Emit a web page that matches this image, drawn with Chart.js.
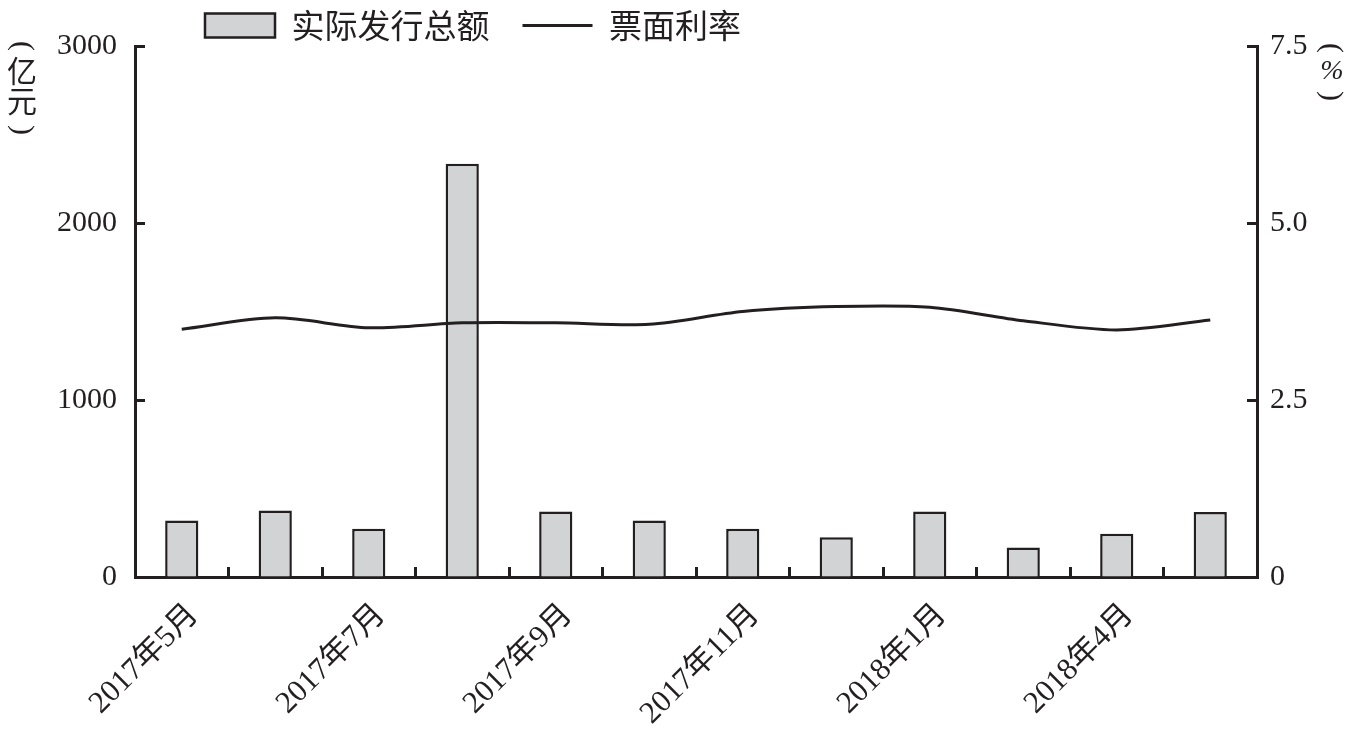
<!DOCTYPE html>
<html>
<head>
<meta charset="utf-8">
<script src="https://cdn.jsdelivr.net/npm/chart.js@4.4.1/dist/chart.umd.min.js"></script>
<style>
  html, body { margin: 0; padding: 0; background: #fff; }
  #wrap { width: 1359px; height: 738px; }
</style>
</head>
<body>
<div id="wrap"><canvas id="bondChart" width="1359" height="738"></canvas></div>
<script>
// data
const months = ['2017年5月', '2017年6月', '2017年7月', '2017年8月', '2017年9月', '2017年10月',
                '2017年11月', '2017年12月', '2018年1月', '2018年3月', '2018年4月', '2018年5月'];
const issueAmount = [319, 376, 272, 2335, 370, 319, 272, 225, 370, 167, 244, 367];   // 亿元
const couponRate = [3.50, 3.66, 3.52, 3.59, 3.59, 3.57, 3.75, 3.82, 3.81, 3.62, 3.49, 3.63]; // %
const leftTicks = [0, 1000, 2000, 3000];
const rightTicks = [0, 2.5, 5.0, 7.5];

const ink = '#231f20';
const serif = '"Liberation Serif", "Noto Sans CJK SC", serif';

document.addEventListener('DOMContentLoaded', function() {
    const ctx = document.getElementById('bondChart');

    // small helper: a parenthesis turned 90deg so it reads as ︵ / ︶
    function arcParen(c, ch, x, y) {
        c.save();
        c.translate(x, y);
        c.rotate(Math.PI / 2);
        c.fillText(ch, 0, 0);
        c.restore();
    }

    // unit titles written vertically beside the two axes
    const axisTitles = {
        id: 'axisTitles',
        afterDraw(chart) {
            const c = chart.ctx;
            c.save();
            c.fillStyle = ink;
            c.textAlign = 'center';
            c.textBaseline = 'middle';
            c.font = '30px ' + serif;
            arcParen(c, '(', 22, 46);
            arcParen(c, ')', 22, 130);
            arcParen(c, '(', 1331, 48);
            arcParen(c, ')', 1331, 96);
            c.font = '30px "Noto Sans CJK SC", sans-serif';
            c.fillText('亿', 22, 71);
            c.fillText('元', 22, 101);
            c.font = 'italic 28px ' + serif;
            c.fillText('%', 1332, 72);
            c.restore();
        }
    };

    // push the legend to the left like the original
    const legendShift = {
        id: 'legendShift',
        afterLayout(chart) {
            const lg = chart.legend;
            if (!lg) return;
            const w = lg.right - lg.left;
            lg.left = 172;
            lg.right = 172 + w;
        }
    };

    new Chart(ctx, {
        data: {
            labels: months,
            datasets: [{
                type: 'line',
                label: '票面利率',
                data: couponRate,
                yAxisID: 'y1',
                borderColor: ink,
                borderWidth: 3,
                pointRadius: 0,
                pointStyle: 'line',
                tension: 0.3,
                order: 0
            }, {
                type: 'bar',
                label: '实际发行总额',
                data: issueAmount,
                yAxisID: 'y',
                backgroundColor: '#d1d3d4',
                borderColor: ink,
                borderWidth: 2.5,
                categoryPercentage: 1,
                barPercentage: 0.355,
                order: 1
            }]
        },
        options: {
            responsive: false,
            animation: false,
            layout: { padding: { top: -25, left: 0, right: 0, bottom: 0 } },
            plugins: {
                tooltip: { enabled: false },
                legend: {
                    position: 'top',
                    align: 'start',
                    maxHeight: 70,
                    labels: {
                        color: ink,
                        font: { size: 33, family: '"Noto Sans CJK SC", sans-serif' },
                        usePointStyle: true,
                        pointStyleWidth: 70,
                        boxHeight: 24,
                        padding: 33,
                        generateLabels(chart) {
                            const items = Chart.defaults.plugins.legend.labels.generateLabels(chart);
                            // bar first, line second
                            items.sort((a, b) => b.datasetIndex - a.datasetIndex);
                            items.forEach(it => {
                                if (it.datasetIndex === 1) {
                                    it.pointStyle = 'rect';
                                    it.fillStyle = '#d1d3d4';
                                    it.strokeStyle = ink;
                                    it.lineWidth = 2.5;
                                } else {
                                    it.pointStyle = 'line';
                                    it.strokeStyle = ink;
                                    it.lineWidth = 3;
                                }
                            });
                            return items;
                        }
                    }
                }
            },
            scales: {
                x: {
                    grid: {
                        offset: true,
                        drawOnChartArea: false,
                        tickLength: -10,
                        tickWidth: 3,
                        tickColor: ink
                    },
                    border: { display: true, color: ink, width: 3 },
                    ticks: {
                        autoSkip: false,
                        maxRotation: 45,
                        minRotation: 45,
                        padding: 30,
                        labelOffset: 12,
                        color: ink,
                        font: { size: 31, family: serif },
                        callback: function(val, idx) {
                            return idx % 2 === 0 ? months[idx] : '';
                        }
                    },
                    afterFit(scale) { scale.height = 161; }
                },
                y: {
                    position: 'left',
                    min: 0,
                    max: 3000,
                    afterBuildTicks(scale) { scale.ticks = leftTicks.map(v => ({ value: v })); },
                    grid: {
                        drawOnChartArea: false,
                        tickLength: -10,
                        tickWidth: 3,
                        tickColor: ink
                    },
                    border: { display: true, color: ink, width: 3 },
                    ticks: {
                        padding: 28,
                        color: ink,
                        font: { size: 30, family: serif },
                        callback: v => String(v)
                    },
                    afterFit(scale) { scale.width = 135; }
                },
                y1: {
                    position: 'right',
                    min: 0,
                    max: 7.5,
                    afterBuildTicks(scale) { scale.ticks = rightTicks.map(v => ({ value: v })); },
                    grid: {
                        drawOnChartArea: false,
                        tickLength: -10,
                        tickWidth: 3,
                        tickColor: ink
                    },
                    border: { display: true, color: ink, width: 3 },
                    ticks: {
                        padding: 23,
                        color: ink,
                        font: { size: 30, family: serif },
                        callback: v => (v === 0 ? '0' : v.toFixed(1))
                    },
                    afterFit(scale) { scale.width = 102; }
                }
            }
        },
        plugins: [axisTitles, legendShift]
    });
});
</script>
</body>
</html>
